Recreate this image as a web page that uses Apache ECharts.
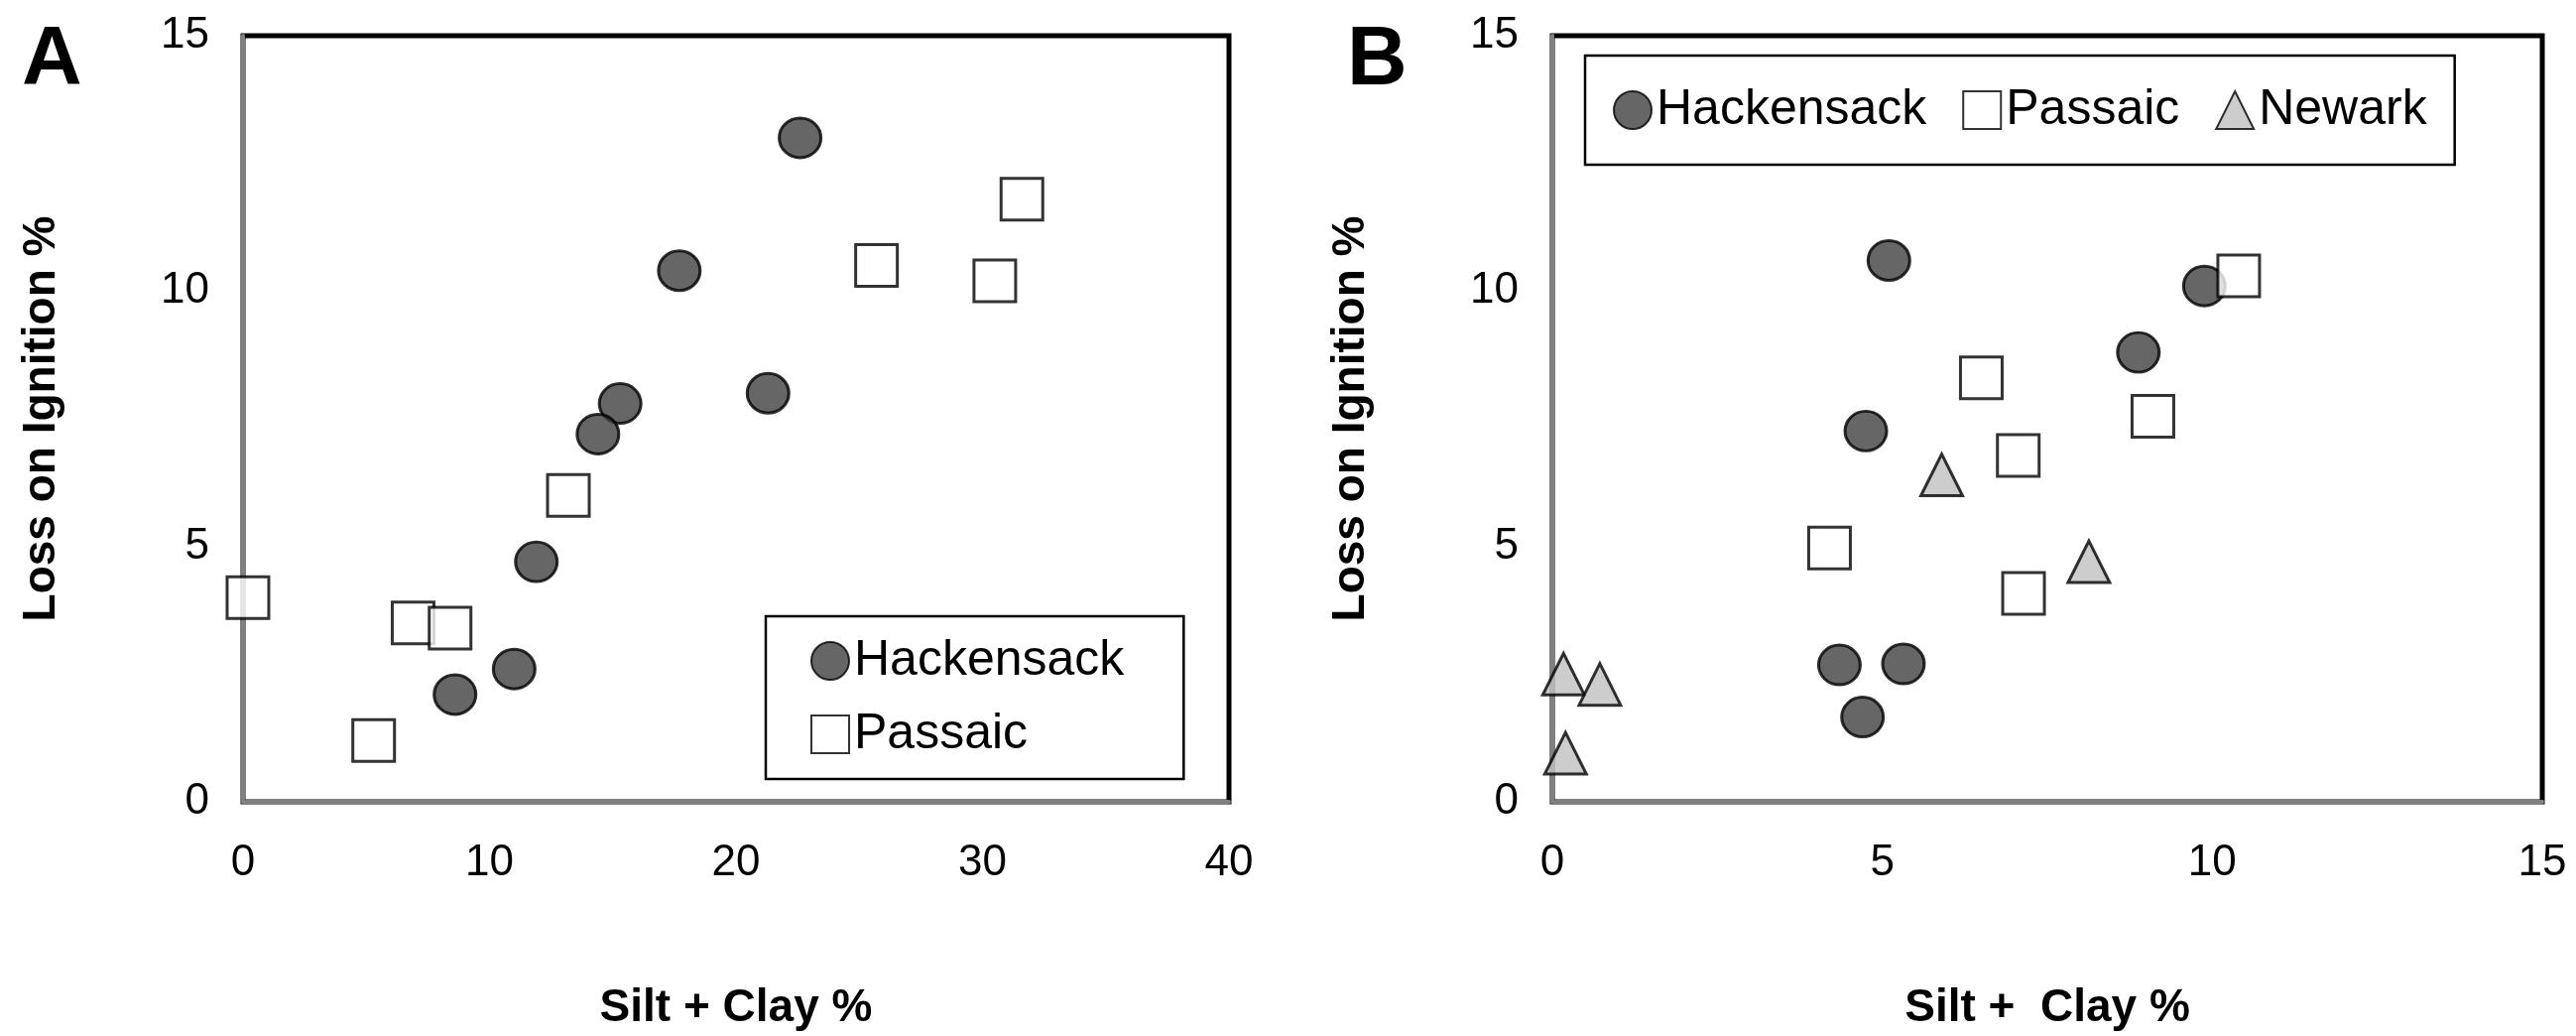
<!DOCTYPE html>
<html><head><meta charset="utf-8">
<script src="https://cdn.jsdelivr.net/npm/echarts@6/dist/echarts.min.js"></script>
<style>html,body{margin:0;padding:0;background:#fff}#c{width:2597px;height:1044px}</style>
</head><body><div id="c"></div>
<script>
const hackA = [[22.6,13.0],[17.7,10.4],[21.3,8.0],[15.3,7.8],[14.4,7.2],[11.9,4.7],[11.0,2.6],[8.6,2.1]];
const passA = [[31.6,11.8],[25.7,10.5],[30.5,10.2],[13.2,6.0],[0.2,4.0],[6.9,3.5],[8.4,3.4],[5.3,1.2]];
const hackB = [[5.1,10.6],[4.75,7.26],[9.88,10.1],[8.88,8.8],[4.35,2.68],[5.32,2.7],[4.7,1.66]];
const passB = [[10.4,10.3],[6.5,8.3],[9.1,7.55],[7.06,6.78],[4.2,4.97],[7.14,4.08]];
const newB = [[5.9,6.4],[8.13,4.7],[0.17,2.5],[0.72,2.3],[0.2,0.95]];
const xTicksA = [0,10,20,30,40], xTicksB = [0,5,10,15], yTicks = [0,5,10,15];

const F = 'Liberation Sans, Arial, sans-serif';
const chart = echarts.init(document.getElementById('c'));
function xAxis(gi, max, interval, name){
  return {type:'value', gridIndex:gi, min:0, max, interval, name, nameLocation:'middle', nameGap:185,
    nameTextStyle:{fontFamily:F,fontSize:46,fontWeight:'bold',color:'#000'},
    axisLine:{show:true,lineStyle:{color:'#808080',width:4}}, axisTick:{show:false}, splitLine:{show:false},
    axisLabel:{fontFamily:F,fontSize:44,color:'#000',margin:40}};
}
function yAxis(gi){
  return {type:'value', gridIndex:gi, min:0, max:15, interval:5, name:'Loss on Ignition %', nameLocation:'middle', nameGap:180,
    nameTextStyle:{fontFamily:F,fontSize:46,fontWeight:'bold',color:'#000'},
    axisLine:{show:true,lineStyle:{color:'#808080',width:4}}, axisTick:{show:false}, splitLine:{show:false},
    axisLabel:{fontFamily:F,fontSize:44,color:'#000',margin:34}};
}
const circ = {color:'#404040',borderColor:'#000',borderWidth:3};
const sq = {color:'#fff',borderColor:'#000',borderWidth:3};
const tri = {color:'#c0c0c0',borderColor:'#000',borderWidth:3};
const lt = {fontFamily:F,fontSize:50,color:'#000'};
chart.setOption({
  animation:false,
  grid:[
    {left:245,top:36,width:994,height:780,show:true,borderColor:'#000',borderWidth:5,backgroundColor:'transparent'},
    {left:1565,top:36,width:998,height:780,show:true,borderColor:'#000',borderWidth:5,backgroundColor:'transparent'}
  ],
  xAxis:[xAxis(0,40,10,'Silt + Clay %'), xAxis(1,15,5,'Silt +  Clay %')],
  yAxis:[yAxis(0), yAxis(1)],
  legend:[
    {left:772,top:621,orient:'vertical',borderColor:'#000',borderWidth:2.5,padding:[20,60,20,45],itemGap:24,
     itemWidth:38,itemHeight:38,textStyle:lt,data:[{name:'Hackensack',icon:'circle'},{name:'Passaic',icon:'rect'}]},
    {left:1598,top:56,orient:'horizontal',borderColor:'#000',borderWidth:2.5,padding:[30,28,30,28],itemGap:22,
     itemWidth:38,itemHeight:38,textStyle:lt,
     data:[{name:'Hackensack ',icon:'circle'},{name:'Passaic ',icon:'rect'},{name:'Newark',icon:'triangle'}]}
  ],
  graphic:[
    {type:'text',left:22,top:20,style:{text:'A',font:'bold 84px '+F,fill:'#000'}},
    {type:'text',left:1358,top:20,style:{text:'B',font:'bold 84px '+F,fill:'#000'}}
  ],
  series:[
    {name:'Hackensack',type:'scatter',xAxisIndex:0,yAxisIndex:0,data:hackA,symbol:'circle',symbolSize:[42,40],itemStyle:circ},
    {name:'Passaic',type:'scatter',xAxisIndex:0,yAxisIndex:0,data:passA,symbol:'rect',symbolSize:42,itemStyle:sq},
    {name:'Hackensack ',type:'scatter',xAxisIndex:1,yAxisIndex:1,data:hackB,symbol:'circle',symbolSize:[42,40],itemStyle:circ},
    {name:'Passaic ',type:'scatter',xAxisIndex:1,yAxisIndex:1,data:passB,symbol:'rect',symbolSize:42,itemStyle:sq},
    {name:'Newark',type:'scatter',xAxisIndex:1,yAxisIndex:1,data:newB,symbol:'triangle',symbolSize:[42,42],itemStyle:tri}
  ]
});
</script></body></html>
